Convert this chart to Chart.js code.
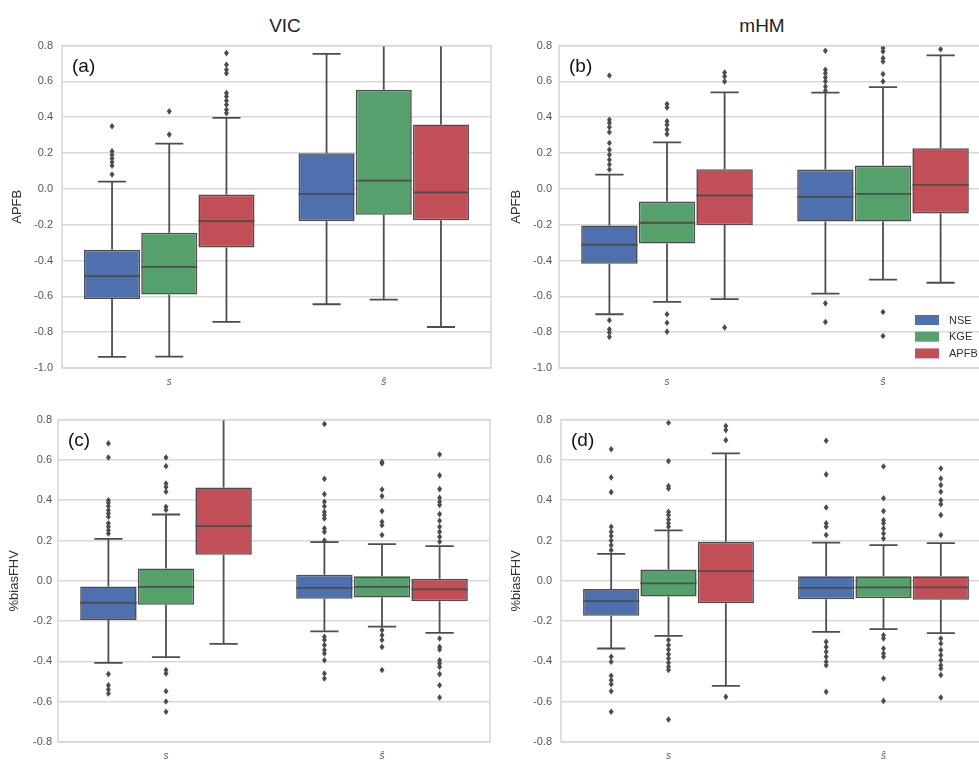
<!DOCTYPE html>
<html>
<head>
<meta charset="utf-8">
<script src="https://cdn.jsdelivr.net/npm/chart.js@4.4.1/dist/chart.umd.min.js"></script>
<style>
  body{margin:0;background:#fff;width:979px;height:761px;overflow:hidden;position:relative;
       font-family:"Liberation Sans", Arial, sans-serif;}
  canvas{position:absolute;}
  .title{position:absolute;font-size:19px;color:#222;transform:translateX(-50%);}
</style>
</head>
<body>
<div class="title" style="left:285px;top:15px">VIC</div>
<div class="title" style="left:762px;top:15px">mHM</div>
<canvas id="ca" width="495" height="360" style="left:0;top:30px"></canvas>
<canvas id="cb" width="497" height="358" style="left:495px;top:32px"></canvas>
<canvas id="cc" width="495" height="357" style="left:0;top:407px"></canvas>
<canvas id="cd" width="497" height="360" style="left:495px;top:404px"></canvas>
<script>
// categories and hue levels
const categories = ["s", "ŝ"];
const metrics = ["NSE", "KGE", "APFB"];
const colors = ["#4F70AE", "#56A16B", "#C24F57"];
const yTicksTop = [-1.0, -0.8, -0.6, -0.4, -0.2, 0.0, 0.2, 0.4, 0.6, 0.8];
const yTicksBottom = [-0.8, -0.6, -0.4, -0.2, 0.0, 0.2, 0.4, 0.6, 0.8];

// rows: NSE, KGE, APFB ; columns: s, ŝ
// (a) VIC APFB
const aLow  = [[-0.938, -0.644], [-0.936, -0.618], [-0.743, -0.771]];
const aQ1   = [[-0.615, -0.180], [-0.590, -0.145], [-0.327, -0.175]];
const aMed  = [[-0.487, -0.028], [-0.435, 0.046], [-0.180, -0.019]];
const aQ3   = [[-0.340, 0.199], [-0.245, 0.553], [-0.032, 0.360]];
const aHigh = [[0.041, 0.754], [0.253, 0.95], [0.396, 0.95]];
const aOut = [
  [[0.35, 0.21, 0.19, 0.17, 0.15, 0.13, 0.08], []],
  [[0.433, 0.303], []],
  [[0.758, 0.693, 0.665, 0.646, 0.535, 0.516, 0.492, 0.47, 0.442, 0.423], []]
];

// (b) mHM APFB
const bLow  = [[-0.700, -0.585], [-0.631, -0.507], [-0.615, -0.524]];
const bQ1   = [[-0.418, -0.182], [-0.305, -0.182], [-0.202, -0.137]];
const bMed  = [[-0.312, -0.045], [-0.189, -0.028], [-0.037, 0.022]];
const bQ3   = [[-0.204, 0.108], [-0.071, 0.130], [0.110, 0.227]];
const bHigh = [[0.080, 0.537], [0.260, 0.568], [0.539, 0.745]];
const bOut = [
  [[0.633, 0.386, 0.368, 0.344, 0.316, 0.256, 0.219, 0.191, 0.163, 0.136, 0.108, -0.733, -0.784, -0.802, -0.826],
   [0.771, 0.665, 0.646, 0.622, 0.6, 0.572, 0.548, -0.639, -0.743]],
  [[0.474, 0.455, 0.377, 0.358, 0.331, 0.306, -0.70, -0.747, -0.797],
   [0.786, 0.767, 0.73, 0.711, 0.641, 0.6, -0.687, -0.821]],
  [[0.65, 0.628, 0.6, -0.774], [0.78]]
];

// (c) VIC %biasFHV
const cLow  = [[-0.407, -0.251], [-0.379, -0.227], [-0.313, -0.258]];
const cQ1   = [[-0.194, -0.089], [-0.119, -0.083], [0.129, -0.101]];
const cMed  = [[-0.109, -0.035], [-0.030, -0.030], [0.271, -0.043]];
const cQ3   = [[-0.028, 0.030], [0.061, 0.022], [0.463, 0.010]];
const cHigh = [[0.208, 0.192], [0.329, 0.182], [0.95, 0.172]];
const cOut = [
  [[0.682, 0.612, 0.4, 0.387, 0.37, 0.35, 0.334, 0.318, 0.285, 0.268, 0.251, 0.235, -0.463, -0.518, -0.539, -0.559],
   [0.778, 0.506, 0.43, 0.392, 0.37, 0.342, 0.326, 0.309, 0.26, 0.243, 0.2, -0.278, -0.294, -0.319, -0.344, -0.361, -0.394, -0.46, -0.485]],
  [[0.612, 0.569, 0.483, 0.466, 0.442, 0.367, 0.351, -0.443, -0.46, -0.548, -0.599, -0.65],
   [0.59, 0.582, 0.453, 0.42, 0.346, 0.293, 0.276, 0.227, -0.245, -0.27, -0.294, -0.328, -0.443]],
  [[],
   [0.627, 0.523, 0.455, 0.412, 0.392, 0.376, 0.331, 0.298, 0.268, 0.243, 0.218, 0.194, -0.286, -0.328, -0.341, -0.394, -0.41, -0.427, -0.463, -0.518, -0.579]]
];

// (d) mHM %biasFHV
const dLow  = [[-0.336, -0.253], [-0.273, -0.240], [-0.521, -0.260]];
const dQ1   = [[-0.174, -0.091], [-0.078, -0.086], [-0.112, -0.094]];
const dMed  = [[-0.101, -0.035], [-0.013, -0.033], [0.048, -0.033]];
const dQ3   = [[-0.041, 0.022], [0.056, 0.022], [0.194, 0.022]];
const dHigh = [[0.134, 0.189], [0.250, 0.177], [0.632, 0.187]];
const dOut = [
  [[0.653, 0.513, 0.44, 0.268, 0.243, 0.222, 0.2, 0.177, 0.152, -0.377, -0.402, -0.471, -0.493, -0.513, -0.548, -0.65],
   [0.695, 0.528, 0.364, 0.285, 0.268, 0.227, -0.303, -0.328, -0.352, -0.377, -0.402, -0.419, -0.551]],
  [[0.784, 0.594, 0.47, 0.458, 0.342, 0.326, 0.304, 0.285, 0.268, -0.294, -0.319, -0.341, -0.364, -0.385, -0.407, -0.427, -0.443, -0.688],
   [0.567, 0.41, 0.346, 0.301, 0.285, 0.26, 0.235, 0.21, -0.27, -0.286, -0.336, -0.361, -0.377, -0.485, -0.596]],
  [[0.768, 0.748, 0.698, -0.576],
   [0.557, 0.508, 0.475, 0.442, 0.4, 0.38, 0.326, 0.227, -0.286, -0.311, -0.344, -0.369, -0.394, -0.419, -0.435, -0.468, -0.579]]
];

const LINE = "#4d4d4d";
const GRID = "#d8d8d8";
const FONT = '"Liberation Sans", Arial, sans-serif';

// whiskers, medians, outliers, frame, panel tag, legend
function boxExtras(st, tag, withLegend){
  return {
    id: "boxExtras",
    beforeDatasetsDraw(chart){
      const {ctx, chartArea: ca, scales: {y}} = chart;
      ctx.save();
      ctx.beginPath(); ctx.rect(ca.left, ca.top, ca.right - ca.left, ca.bottom - ca.top); ctx.clip();
      ctx.strokeStyle = LINE; ctx.lineWidth = 1.8; ctx.lineCap = "butt";
      chart.data.datasets.forEach((ds, d) => {
        chart.getDatasetMeta(d).data.forEach((bar, i) => {
          const x = bar.x, cap = bar.width / 4;
          const lo = y.getPixelForValue(st.low[d][i]), hi = y.getPixelForValue(st.high[d][i]);
          const q1 = y.getPixelForValue(st.q1[d][i]), q3 = y.getPixelForValue(st.q3[d][i]);
          ctx.beginPath();
          ctx.moveTo(x, q3); ctx.lineTo(x, hi);
          ctx.moveTo(x, q1); ctx.lineTo(x, lo);
          ctx.moveTo(x - cap, hi); ctx.lineTo(x + cap, hi);
          ctx.moveTo(x - cap, lo); ctx.lineTo(x + cap, lo);
          ctx.stroke();
        });
      });
      ctx.restore();
    },
    afterDatasetsDraw(chart){
      const {ctx, chartArea: ca, scales: {y}} = chart;
      ctx.save();
      ctx.beginPath(); ctx.rect(ca.left, ca.top - 1, ca.right - ca.left, ca.bottom - ca.top + 2); ctx.clip();
      chart.data.datasets.forEach((ds, d) => {
        chart.getDatasetMeta(d).data.forEach((bar, i) => {
          const x = bar.x, hw = bar.width / 2;
          const m = y.getPixelForValue(st.med[d][i]);
          ctx.strokeStyle = LINE; ctx.lineWidth = 1.8;
          ctx.beginPath(); ctx.moveTo(x - hw, m); ctx.lineTo(x + hw, m); ctx.stroke();
          ctx.fillStyle = LINE;
          st.out[d][i].forEach(v => {
            const py = y.getPixelForValue(v);
            ctx.beginPath();
            ctx.moveTo(x, py - 3.3); ctx.lineTo(x + 2.5, py);
            ctx.lineTo(x, py + 3.3); ctx.lineTo(x - 2.5, py);
            ctx.closePath(); ctx.fill();
          });
        });
      });
      ctx.restore();

      ctx.save();
      ctx.strokeStyle = GRID; ctx.lineWidth = 1.6;
      ctx.strokeRect(ca.left, ca.top, ca.right - ca.left, ca.bottom - ca.top);
      ctx.fillStyle = "#111"; ctx.font = "19px " + FONT;
      ctx.textBaseline = "middle"; ctx.textAlign = "left";
      ctx.fillText(tag, ca.left + 10, ca.top + 21);
      if (withLegend){
        ctx.font = "11px " + FONT;
        chart.data.datasets.forEach((ds, d) => {
          const ty = ca.bottom - 53 + d * 16.7;
          ctx.fillStyle = ds.backgroundColor;
          ctx.fillRect(ca.right - 76, ty, 24, 10);
          ctx.fillStyle = "#333";
          ctx.fillText(ds.label, ca.right - 42, ty + 5.5);
        });
      }
      ctx.restore();
    }
  };
}

function makeChart(id, st, tag, yTitle, ticks, geo, withLegend){
  const datasets = metrics.map((m, d) => ({
    label: m,
    data: categories.map((c, i) => [st.q1[d][i], st.q3[d][i]]),
    backgroundColor: colors[d],
    borderColor: LINE,
    borderWidth: 1.6,
    borderSkipped: false,
    categoryPercentage: 0.8,
    barPercentage: 0.98
  }));
  return new Chart(document.getElementById(id), {
    type: "bar",
    data: {labels: categories, datasets},
    options: {
      responsive: false,
      animation: false,
      layout: {padding: {top: 0, right: geo.right, bottom: 0, left: 0}},
      plugins: {legend: {display: false}, tooltip: {enabled: false}},
      scales: {
        x: {
          grid: {display: false},
          border: {display: false},
          ticks: {color: "#555", padding: 0, font: {family: FONT, size: 10, style: "italic"}},
          afterFit(s){ s.height = 22; }
        },
        y: {
          min: ticks[0], max: ticks[ticks.length - 1],
          afterBuildTicks(s){ s.ticks = ticks.map(v => ({value: v})); },
          grid: {color: GRID, lineWidth: 1.6, drawTicks: false},
          border: {display: false},
          ticks: {color: "#555", padding: geo.tickPad, font: {family: FONT, size: 11},
                  callback: v => Number(v).toFixed(1)},
          title: {display: true, text: yTitle, color: "#333", font: {family: FONT, size: 13},
                  padding: {top: geo.titlePad, bottom: 0}},
          afterFit(s){ s.width = geo.yWidth; }
        }
      }
    },
    plugins: [boxExtras(st, tag, withLegend)]
  });
}

const stA = {low: aLow, q1: aQ1, med: aMed, q3: aQ3, high: aHigh, out: aOut};
const stB = {low: bLow, q1: bQ1, med: bMed, q3: bQ3, high: bHigh, out: bOut};
const stC = {low: cLow, q1: cQ1, med: cMed, q3: cQ3, high: cHigh, out: cOut};
const stD = {low: dLow, q1: dQ1, med: dMed, q3: dQ3, high: dHigh, out: dOut};

makeChart("ca", stA, "(a)", "APFB", yTicksTop, {yWidth: 62, right: 4, tickPad: 9, titlePad: 10}, false);
makeChart("cb", stB, "(b)", "APFB", yTicksTop, {yWidth: 64, right: 1, tickPad: 7, titlePad: 14}, true);
makeChart("cc", stC, "(c)", "%biasFHV", yTicksBottom, {yWidth: 58, right: 5, tickPad: 6, titlePad: 7}, false);
makeChart("cd", stD, "(d)", "%biasFHV", yTicksBottom, {yWidth: 66, right: 1, tickPad: 9, titlePad: 14}, false);
</script>
</body>
</html>
